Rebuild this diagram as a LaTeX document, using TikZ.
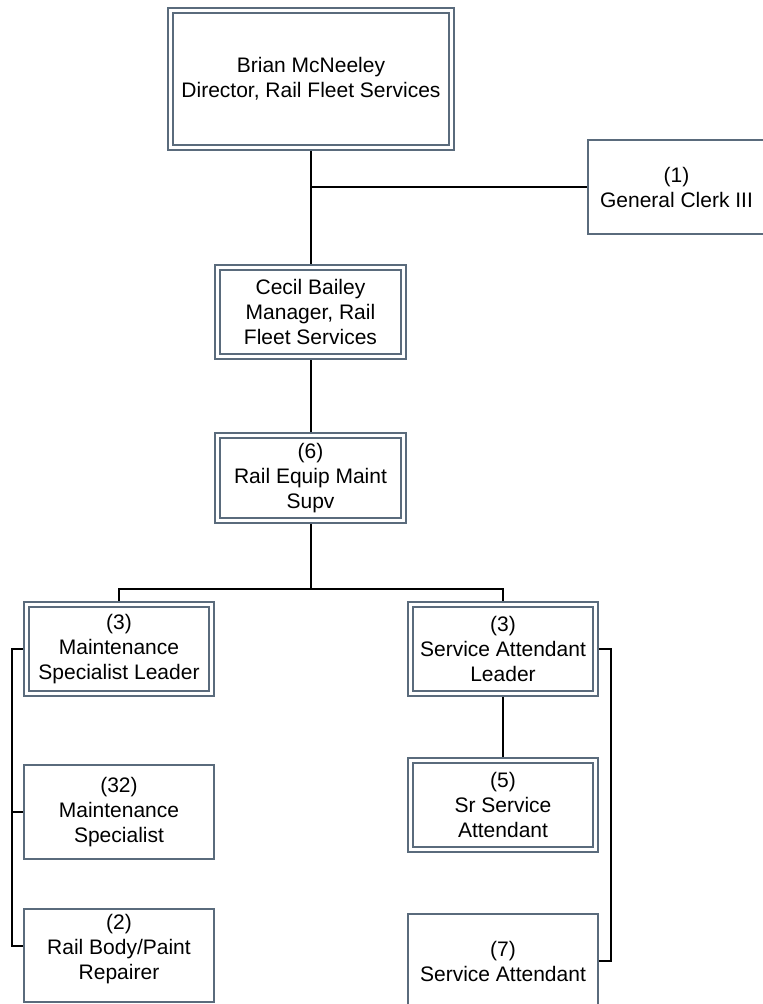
\documentclass[tikz,border=0pt]{standalone}
\usepackage{fontspec}
\setmainfont{Liberation Sans}
\usetikzlibrary{backgrounds}
\definecolor{boxline}{HTML}{5A6B7C}
\begin{document}
\begin{tikzpicture}[x=1pt,y=-1pt,
  txt/.style={font=\fontsize{21}{25}\selectfont, align=center, text=black},
  dbox/.style={txt, rectangle, draw=boxline, line width=1.8pt, double=white, double distance=3pt, fill=white, inner sep=0pt},
  sbox/.style={txt, rectangle, draw=boxline, line width=2pt, fill=white, inner sep=0pt},
  conn/.style={draw=black, line width=2pt}]
\useasboundingbox (0,0) rectangle (763,1004);
\clip (0,0) rectangle (763,1004);
% boxes
\node[dbox, minimum width=281.4pt, minimum height=137.4pt] (top) at (311,79) {Brian McNeeley\\Director, Rail Fleet Services};
\node[sbox, minimum width=177pt, minimum height=94pt] (clerk) at (676.5,187) {(1)\\General Clerk III};
\node[dbox, minimum width=186.4pt, minimum height=89.4pt] (cecil) at (310.5,312) {Cecil Bailey\\Manager, Rail\\Fleet Services};
\node[dbox, minimum width=186.4pt, minimum height=85.4pt] (equip) at (310.5,478) {(6)\\Rail Equip Maint\\Supv};
\node[dbox, minimum width=185.4pt, minimum height=89.4pt] (lead1) at (119,649) {(3)\\Maintenance\\Specialist Leader};
\node[dbox, minimum width=185.4pt, minimum height=89.4pt] (lead2) at (503,649) {(3)\\Service Attendant\\Leader};
\node[sbox, minimum width=190pt, minimum height=94pt] (ms) at (119,812) {(32)\\Maintenance\\Specialist};
\node[sbox, minimum width=190pt, minimum height=93pt,
  label={[txt, yshift=6pt]center:{(2)\\Rail Body/Paint\\Repairer}}] (rb) at (119,955.5) {};
\node[dbox, minimum width=185.4pt, minimum height=89.4pt] (sr) at (503,805) {(5)\\Sr Service\\Attendant};
\node[sbox, minimum width=190pt, minimum height=94pt] (sa) at (503,961) {(7)\\Service Attendant};
\coordinate (bus) at (311,589);
\coordinate (lx) at (12,0);
\coordinate (rx) at (611,0);
% connectors
\begin{scope}[on background layer]
\draw[conn] (top.south) -- (top.south |- cecil.north);
\draw[conn] (top.south |- clerk.west) -- (clerk.west);
\draw[conn] (cecil.south) -- (equip.north);
\draw[conn] (equip.south) -- (equip.south |- bus);
\draw[conn] (lead1.north) -- (lead1.north |- bus) -- (lead2.north |- bus) -- (lead2.north);
\draw[conn] (lead1.west) -- (lead1.west -| lx) -- ([yshift=10pt]rb.west -| lx) -- ([yshift=10pt]rb.west);
\draw[conn] (ms.west) -- (ms.west -| lx);
\draw[conn] (lead2.south) -- (sr.north);
\draw[conn] (lead2.east) -- (lead2.east -| rx) -- (sa.east -| rx) -- (sa.east);
\end{scope}
\end{tikzpicture}
\end{document}
